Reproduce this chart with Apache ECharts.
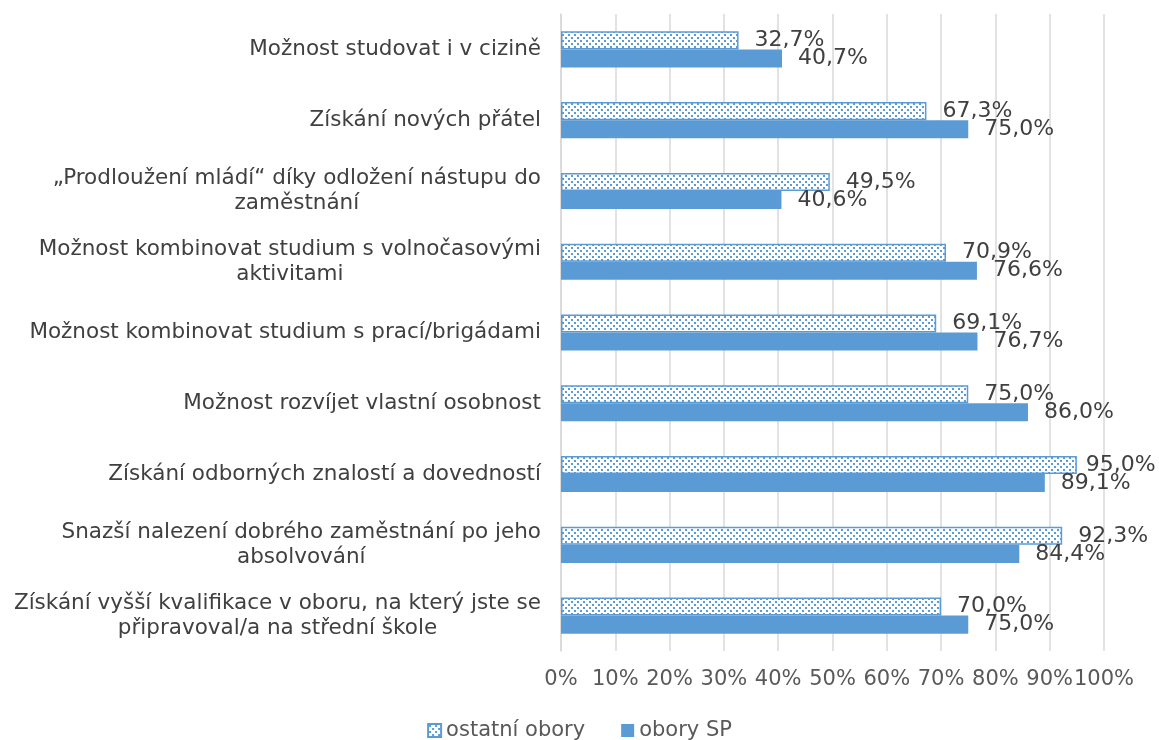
<!DOCTYPE html>
<html><head><meta charset="utf-8">
<script src="https://cdn.jsdelivr.net/npm/echarts@6/dist/echarts.min.js"></script>
<style>html,body{margin:0;padding:0;background:#fff}#c{width:1159px;height:740px}</style>
</head><body><div id="c"></div>
<script>
const categories = [
  "Možnost studovat i v cizině",
  "Získání nových přátel",
  "„Prodloužení mládí“ díky odložení nástupu do\nzaměstnání",
  "Možnost kombinovat studium s volnočasovými\naktivitami",
  "Možnost kombinovat studium s prací/brigádami",
  "Možnost rozvíjet vlastní osobnost",
  "Získání odborných znalostí a dovedností",
  "Snazší nalezení dobrého zaměstnání po jeho\nabsolvování",
  "Získání vyšší kvalifikace v oboru, na který jste se\npřipravoval/a na střední škole"
];
const ostatniObory = [32.7, 67.3, 49.5, 70.9, 69.1, 75.0, 95.0, 92.3, 70.0];
const oborySP = [40.7, 75.0, 40.6, 76.6, 76.7, 86.0, 89.1, 84.4, 75.0];
const seriesNames = ["ostatní obory", "obory SP"];

const BLUE = '#5B9BD5';
const FONT = 'DejaVu Sans';
const cv = document.createElement('canvas');
cv.width = 6; cv.height = 6;
const cx = cv.getContext('2d');
cx.fillStyle = '#fff'; cx.fillRect(0,0,6,6);
cx.fillStyle = BLUE;
cx.fillRect(1,1,2,2); cx.fillRect(4,4,2,2);
const pattern = {image: cv, repeat: 'repeat'};

const fmt = v => v.toFixed(1).replace('.', ',') + '%';
const labelCfg = {show: true, position: 'right', distance: 16, color: '#404040',
  fontFamily: FONT, fontSize: 22, formatter: p => fmt(p.value)};
// labels near the right edge are pulled closer to the bar so they stay inside the chart
const toItems = arr => arr.map(v => v > 94 ? {value: v, label: {distance: 9}} : v);

const chart = echarts.init(document.getElementById('c'));
chart.setOption({
  animation: false,
  textStyle: {fontFamily: FONT},
  grid: {left: 561, right: 55, top: 14, bottom: 89, containLabel: false},
  legend: {
    top: 715, left: 'center', itemWidth: 13, itemHeight: 13, itemGap: 36, icon: 'rect',
    textStyle: {fontFamily: FONT, fontSize: 21, color: '#595959'},
    data: seriesNames
  },
  xAxis: {
    type: 'value', min: 0, max: 100, interval: 10,
    axisLine: {show: false}, axisTick: {show: false},
    splitLine: {lineStyle: {color: '#D9D9D9', width: 1.5}},
    axisLabel: {formatter: v => v + '%', color: '#595959', fontFamily: FONT, fontSize: 21, margin: 18,
      interval: 0, showMinLabel: true, showMaxLabel: true, hideOverlap: false}
  },
  yAxis: {
    type: 'category', inverse: true, data: categories,
    axisLine: {lineStyle: {color: '#D9D9D9', width: 1.5}}, axisTick: {show: false},
    axisLabel: {
      margin: 20, color: '#404040', fontFamily: FONT, fontSize: 21.5, lineHeight: 25,
      formatter: v => v.split('\n').map(l => '{c|' + l + '}').join('\n'),
      rich: {c: {align: 'center', fontFamily: FONT, fontSize: 21.5, color: '#404040', lineHeight: 25}}
    }
  },
  series: [
    {name: seriesNames[0], type: 'bar', data: toItems(ostatniObory), barGap: '0%', barCategoryGap: '49%',
     itemStyle: {color: pattern, borderColor: BLUE, borderWidth: 1.5}, label: labelCfg},
    {name: seriesNames[1], type: 'bar', data: toItems(oborySP),
     itemStyle: {color: BLUE}, label: labelCfg}
  ]
});
</script></body></html>
